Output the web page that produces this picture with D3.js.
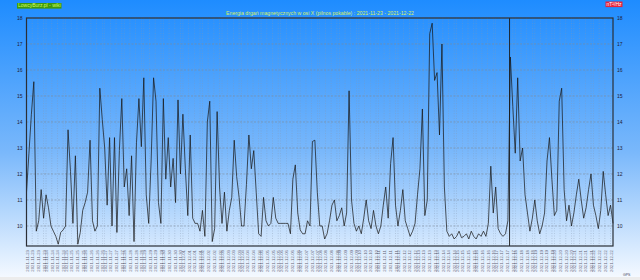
<!DOCTYPE html>
<html>
<head>
<meta charset="utf-8">
<script src="https://cdn.jsdelivr.net/npm/d3@7"></script>
<style>
    html, body { margin: 0; padding: 0; background: #ececec; }
    svg { display: block; font-family: "Liberation Sans", Arial, sans-serif; }
</style>
</head>
<body>
<svg id="chart" width="640" height="280"></svg>
<script>
// chart data: one reading every 3 hours from 2021-11-23 00:00
const startTime = '2021-11-23T00:00';
const endTime = '2021-12-23T00:00';
const stepHours = 3;
const energyValues = [
    11.3, 12.8, 14.3, 15.55, 9.8, 10.2, 11.4, 10.3,
    11.2, 10.7, 10.0, 9.8, 9.6, 9.3, 9.75, 9.85,
    10.0, 13.7, 12.1, 10.1, 12.7, 9.3, 9.75, 10.6,
    10.9, 11.3, 13.3, 10.2, 9.8, 10.0, 15.3, 14.1,
    13.0, 10.8, 13.4, 10.0, 13.4, 9.75, 12.9, 14.9,
    11.5, 12.2, 10.4, 12.7, 9.4, 13.2, 14.9, 13.05,
    15.7, 11.2, 10.1, 12.5, 15.7, 14.8, 10.9, 10.1,
    14.9, 11.8, 13.4, 11.5, 12.6, 10.9, 14.85, 12.0,
    14.3, 12.2, 10.4, 13.5, 10.3, 10.1, 10.1, 9.8,
    10.6, 9.6, 14.0, 14.8, 9.4, 9.9, 14.4, 11.5,
    10.1, 11.3, 9.8, 10.6, 11.1, 13.3, 11.9, 11.1,
    10.0, 10.0, 11.6, 13.5, 12.2, 12.9, 11.3, 9.7,
    9.6, 11.1, 10.2, 10.0, 10.1, 11.1, 10.3, 10.1,
    10.1, 10.1, 10.1, 10.1, 9.7, 11.8, 12.35, 10.5,
    9.85, 9.7, 9.7, 10.2, 10.0, 13.25, 13.3, 11.3,
    10.0, 10.0, 9.5, 9.7, 10.2, 10.8, 11.0, 10.2,
    10.4, 10.7, 10.0, 10.5, 15.2, 11.0, 10.1, 9.8,
    10.0, 9.7, 10.3, 11.0, 10.2, 9.9, 10.6, 10.0,
    9.7, 10.0, 10.8, 11.5, 10.3, 12.4, 13.4, 10.8,
    10.0, 10.6, 11.4, 10.2, 9.9, 9.6, 9.8, 10.1,
    11.2, 12.2, 14.5, 10.4, 11.0, 17.4, 17.8, 15.6,
    15.9, 13.5, 17.0, 11.5, 9.8, 9.6, 9.7, 9.5,
    9.6, 9.8, 9.55, 9.6, 9.7, 9.5, 9.8, 9.6,
    9.5, 9.7, 9.6, 9.8, 9.6, 10.1, 12.3, 10.5,
    11.5, 9.9, 9.7, 9.6, 9.7, 10.2, 16.5, 14.6,
    12.8, 15.7, 12.5, 13.0, 11.2, 10.5, 9.8, 10.3,
    11.0, 10.2, 9.7, 10.0, 10.5, 12.5, 13.4, 11.8,
    10.4, 10.6, 14.8, 15.3, 11.4, 10.2, 10.8, 10.0,
    10.5, 11.2, 11.8, 11.0, 10.3, 10.7, 11.4, 12.0,
    10.8, 10.4, 9.9, 10.6, 12.1, 11.2, 10.4, 10.8,
    10.1
];
const yTicks = [10, 11, 12, 13, 14, 15, 16, 17, 18];
const yRange = [9.23, 18];
const tickStepHours = 7;
const markerTimes = ['2021-12-17T17:00'];
const titleText = 'Energia drgań magnetycznych w osi X (pilnos pokable) : 2021-11-23 - 2021-12-22';
const siteLabel = 'LowcyBurz.pl - wiki';
const unitLabel = 'nT²/Hz';
const footLabel = 'GPS';

const width = 640;
const height = 280;
const margin = {top: 18, right: 27, bottom: 34, left: 26.5};

const svg = d3.select('#chart');
const parseTime = d3.timeParse('%Y-%m-%dT%H:%M');
const t0 = parseTime(startTime);
const t1 = parseTime(endTime);

const series = energyValues.map((v, i) => ({time: d3.timeHour.offset(t0, i * stepHours), value: v}));

const x = d3.scaleTime().domain([t0, t1]).range([margin.left, width - margin.right]);
const y = d3.scaleLinear().domain(yRange).range([height - margin.bottom, margin.top]);

// background gradient
const defs = svg.append('defs');
const grad = defs.append('linearGradient').attr('id', 'bg').attr('x1', 0).attr('y1', 0).attr('x2', 0).attr('y2', 1);
grad.append('stop').attr('offset', '0%').attr('stop-color', '#1e8cff');
grad.append('stop').attr('offset', '55%').attr('stop-color', '#7ab8fb');
grad.append('stop').attr('offset', '100%').attr('stop-color', '#f4f9ff');
svg.append('rect').attr('width', width).attr('height', 277).attr('fill', 'url(#bg)');

const xTickTimes = d3.timeHour.every(tickStepHours).range(t0, t1);
const plotTop = margin.top;
const plotBottom = height - margin.bottom;

// grid
svg.append('g').selectAll('line').data(xTickTimes).join('line')
    .attr('x1', (d) => x(d)).attr('x2', (d) => x(d))
    .attr('y1', plotTop).attr('y2', plotBottom)
    .attr('stroke', '#8a9bb0').attr('stroke-width', 0.5)
    .attr('stroke-dasharray', '1,1.5').attr('opacity', 0.8);

svg.append('g').selectAll('line').data(yTicks).join('line')
    .attr('x1', margin.left).attr('x2', width - margin.right)
    .attr('y1', (d) => y(d)).attr('y2', (d) => y(d))
    .attr('stroke', '#7d8a99').attr('stroke-width', 0.6)
    .attr('stroke-dasharray', '2,1.5');

// y axes on both sides
const leftAxis = d3.axisLeft(y).tickValues(yTicks).tickSize(0).tickPadding(4);
const rightAxis = d3.axisRight(y).tickValues(yTicks).tickSize(0).tickPadding(4);
const styleAxis = (g) => {
    g.select('.domain').remove();
    g.selectAll('text').attr('font-size', 5).attr('fill', '#223').attr('font-family', '"Liberation Sans", Arial, sans-serif');
};
svg.append('g').attr('transform', `translate(${margin.left},0)`).call(leftAxis).call(styleAxis);
svg.append('g').attr('transform', `translate(${width - margin.right},0)`).call(rightAxis).call(styleAxis);

// x axis, rotated date labels
const fmt = d3.timeFormat('%Y-%m-%d');
const xAxis = d3.axisBottom(x).tickValues(xTickTimes).tickFormat(fmt).tickSize(0).tickPadding(0);
svg.append('g').attr('transform', `translate(0,${plotBottom})`).call(xAxis)
    .call((g) => {
        g.select('.domain').remove();
        g.selectAll('text')
            .attr('font-size', 4.3)
            .attr('fill', '#667')
            .attr('font-family', '"Liberation Sans", Arial, sans-serif')
            .attr('text-anchor', 'end')
            .attr('dy', null)
            .attr('y', 0)
            .attr('transform', 'translate(1.5,4) rotate(-90)');
    });

// data line
const line = d3.line().x((d) => x(d.time)).y((d) => y(d.value));
svg.append('path').datum(series)
    .attr('d', line)
    .attr('fill', 'none')
    .attr('stroke', '#161616')
    .attr('stroke-width', 0.85)
    .attr('stroke-opacity', 0.85)
    .attr('stroke-linejoin', 'round');

// marker line
svg.append('g').selectAll('line').data(markerTimes.map(parseTime)).join('line')
    .attr('x1', (d) => x(d)).attr('x2', (d) => x(d))
    .attr('y1', plotTop).attr('y2', plotBottom)
    .attr('stroke', '#1a1a1a').attr('stroke-width', 0.9);

// frame
svg.append('rect')
    .attr('x', margin.left).attr('y', plotTop)
    .attr('width', width - margin.right - margin.left).attr('height', plotBottom - plotTop)
    .attr('fill', 'none').attr('stroke', '#2b2f36').attr('stroke-width', 1.2);

// title and badges
svg.append('text').attr('x', 320).attr('y', 15).attr('text-anchor', 'middle')
    .attr('font-size', 5.2).attr('fill', '#d8f060').text(titleText);

const badge = (bx, by, label, bg, fg) => {
    const g = svg.append('g');
    const txt = g.append('text').attr('x', bx + 1).attr('y', by + 4.3)
        .attr('font-size', 5).attr('fill', fg).text(label);
    const w = txt.node().getComputedTextLength() + 2;
    g.insert('rect', 'text').attr('x', bx).attr('y', by).attr('width', w).attr('height', 5.6).attr('fill', bg);
};
badge(17, 3, siteLabel, '#3f9a0a', '#d4ff6a');
badge(605.5, 1.5, unitLabel, '#e8233b', '#ffffff');

svg.append('text').attr('x', 623).attr('y', 276).attr('font-size', 3.5).attr('fill', '#445').text(footLabel);
</script>
</body>
</html>
